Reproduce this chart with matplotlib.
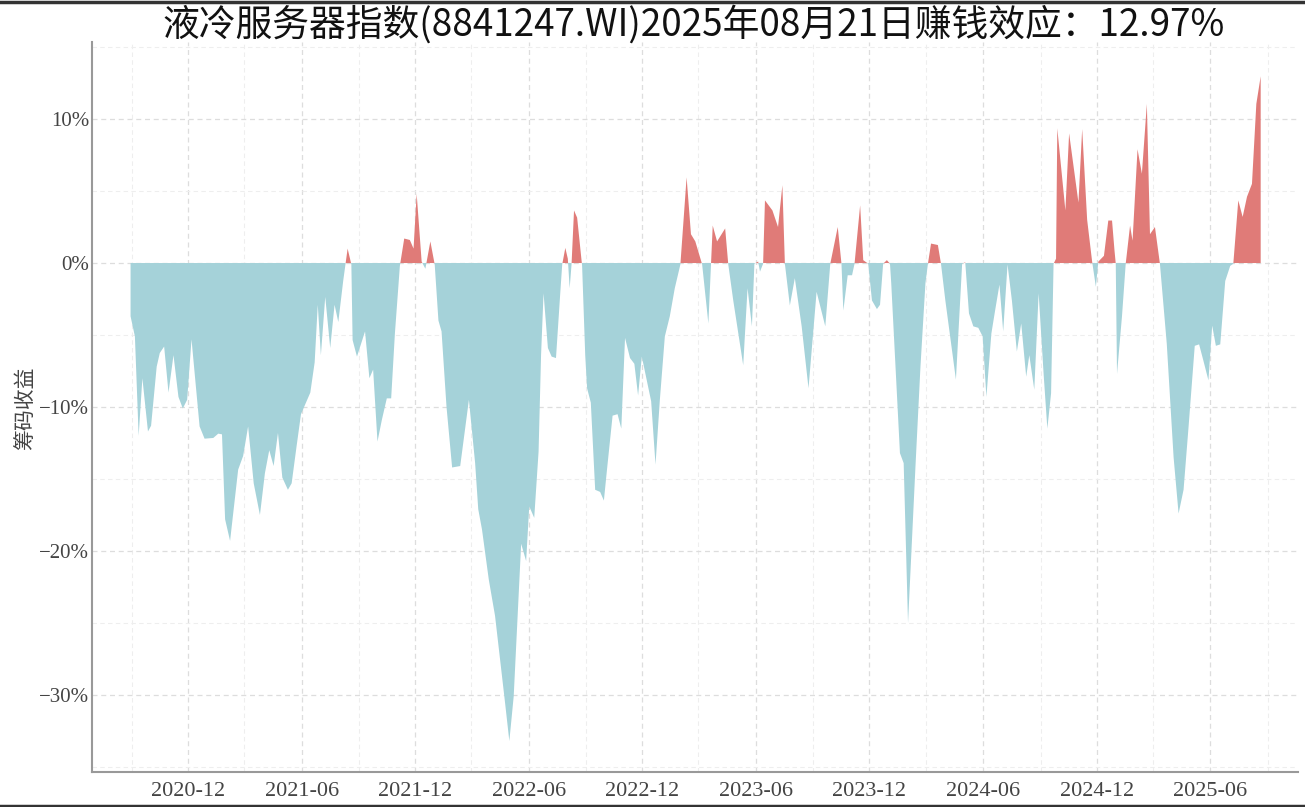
import matplotlib
matplotlib.use("Agg")
import matplotlib.pyplot as plt
import matplotlib.dates as mdates
from matplotlib.ticker import FixedLocator, MultipleLocator
from matplotlib.lines import Line2D
import numpy as np
import pandas as pd

TITLE = "液冷服务器指数(8841247.WI)2025年08月21日赚钱效应：12.97%"
YLABEL = "筹码收益"

dates = [
    "2020-08-30", "2020-09-06", "2020-09-12", "2020-09-18", "2020-09-27", "2020-10-02",
    "2020-10-11", "2020-10-16", "2020-10-23", "2020-10-30", "2020-11-07", "2020-11-15",
    "2020-11-22", "2020-11-29", "2020-12-06", "2020-12-12", "2020-12-19", "2020-12-27",
    "2021-01-10", "2021-01-18", "2021-01-24", "2021-01-29", "2021-02-06", "2021-02-19",
    "2021-02-27", "2021-03-07", "2021-03-16", "2021-03-26", "2021-04-03", "2021-04-10",
    "2021-04-17", "2021-04-24", "2021-05-01", "2021-05-10", "2021-05-16", "2021-05-24",
    "2021-05-31", "2021-06-09", "2021-06-15", "2021-06-22", "2021-06-27", "2021-07-02",
    "2021-07-09", "2021-07-17", "2021-07-24", "2021-07-30", "2021-08-07", "2021-08-14",
    "2021-08-20", "2021-08-22", "2021-08-29", "2021-09-11", "2021-09-18", "2021-09-24",
    "2021-10-01", "2021-10-08", "2021-10-16", "2021-10-23", "2021-10-29", "2021-11-06",
    "2021-11-13", "2021-11-22", "2021-11-28", "2021-12-03", "2021-12-11", "2021-12-17",
    "2021-12-25", "2022-01-01", "2022-01-07", "2022-01-12", "2022-01-20", "2022-01-29",
    "2022-02-11", "2022-02-25", "2022-03-07", "2022-03-12", "2022-03-18", "2022-03-29",
    "2022-04-08", "2022-04-16", "2022-04-24", "2022-05-01", "2022-05-08", "2022-05-20",
    "2022-05-28", "2022-06-02", "2022-06-10", "2022-06-17", "2022-06-21", "2022-06-25",
    "2022-07-02", "2022-07-08", "2022-07-15", "2022-07-22", "2022-07-25", "2022-07-30",
    "2022-08-03", "2022-08-06", "2022-08-09", "2022-08-13", "2022-08-18", "2022-08-26",
    "2022-08-31", "2022-09-03", "2022-09-09", "2022-09-16", "2022-09-24", "2022-09-30",
    "2022-10-05", "2022-10-14", "2022-10-22", "2022-10-28", "2022-11-03", "2022-11-11",
    "2022-11-18", "2022-11-24", "2022-11-30", "2022-12-15", "2022-12-22", "2022-12-29",
    "2023-01-06", "2023-01-14", "2023-01-22", "2023-01-31", "2023-02-10", "2023-02-17",
    "2023-02-24", "2023-03-07", "2023-03-17", "2023-03-24", "2023-03-31", "2023-04-13",
    "2023-04-18", "2023-04-26", "2023-05-12", "2023-05-19", "2023-05-26", "2023-05-30",
    "2023-06-05", "2023-06-08", "2023-06-13", "2023-06-16", "2023-06-28", "2023-07-07",
    "2023-07-14", "2023-07-18", "2023-07-26", "2023-08-03", "2023-08-14", "2023-08-25",
    "2023-09-07", "2023-09-21", "2023-09-29", "2023-10-11", "2023-10-17", "2023-10-20",
    "2023-10-27", "2023-11-03", "2023-11-07", "2023-11-16", "2023-11-21", "2023-11-29",
    "2023-12-05", "2023-12-13", "2023-12-18", "2023-12-23", "2023-12-29", "2024-01-03",
    "2024-01-05", "2024-01-19", "2024-01-25", "2024-02-01", "2024-02-13", "2024-02-21",
    "2024-02-29", "2024-03-04", "2024-03-09", "2024-03-20", "2024-03-25", "2024-04-01",
    "2024-04-18", "2024-04-28", "2024-05-03", "2024-05-09", "2024-05-16", "2024-05-24",
    "2024-05-31", "2024-06-06", "2024-06-14", "2024-06-20", "2024-06-27", "2024-07-03",
    "2024-07-10", "2024-07-17", "2024-07-25", "2024-08-01", "2024-08-09", "2024-08-14",
    "2024-08-22", "2024-08-29", "2024-09-06", "2024-09-12", "2024-09-18", "2024-09-22",
    "2024-09-26", "2024-09-28", "2024-10-11", "2024-10-17", "2024-11-01", "2024-11-07",
    "2024-11-15", "2024-11-23", "2024-11-29", "2024-12-03", "2024-12-12", "2024-12-19",
    "2024-12-25", "2024-12-29", "2024-12-31", "2025-01-02", "2025-01-10", "2025-01-16",
    "2025-01-23", "2025-01-27", "2025-02-04", "2025-02-11", "2025-02-19", "2025-02-24",
    "2025-03-04", "2025-03-12", "2025-03-23", "2025-04-03", "2025-04-11", "2025-04-19",
    "2025-04-27", "2025-05-07", "2025-05-14", "2025-05-21", "2025-05-29", "2025-06-04",
    "2025-06-10", "2025-06-17", "2025-06-25", "2025-07-03", "2025-07-08", "2025-07-16",
    "2025-07-23", "2025-07-30", "2025-08-07", "2025-08-14", "2025-08-21",
]

returns_pct = [
    -3.7, -5.1, -12.0, -8.0, -11.7, -11.3,
    -7.2, -6.25, -5.8, -9.0, -6.4, -9.3,
    -10.1, -9.5, -5.3, -8.1, -11.35, -12.2,
    -12.15, -11.85, -11.9, -17.8, -19.3, -14.35,
    -13.4, -11.35, -15.3, -17.5, -14.6, -13.0,
    -14.1, -11.8, -14.9, -15.75, -15.3, -12.7,
    -10.5, -9.6, -9.0, -6.9, -2.9, -6.4,
    -2.35, -5.9, -2.9, -4.1, -1.2, 1.0,
    -0.1, -5.35, -6.5, -4.75, -8.0, -7.4,
    -12.4, -10.9, -9.4, -9.4, -4.9, -0.2,
    1.7, 1.6, 1.0, 4.8, 0.1, -0.4,
    1.5, -0.1, -4.0, -4.75, -10.0, -14.2,
    -14.1, -9.5, -13.9, -17.1, -18.5, -22.0,
    -24.5, -27.5, -30.5, -33.2, -30.1, -19.5,
    -20.7, -16.9, -17.7, -13.1, -6.4, -2.1,
    -5.9, -6.5, -6.6, -2.0, -0.1, 1.05,
    0.3, -1.75, -0.1, 3.65, 3.15, -0.2,
    -6.4, -8.7, -9.7, -15.75, -15.9, -16.5,
    -14.35, -10.6, -10.5, -11.5, -5.2, -6.6,
    -7.0, -9.2, -6.5, -9.6, -14.0, -9.5,
    -5.1, -3.7, -1.75, -0.1, 5.95, 2.0,
    1.5, -0.1, -4.2, 2.6, 1.5, 2.4,
    -0.1, -2.6, -7.1, -1.75, -4.4, -0.05,
    0.1, -0.6, -0.05, 4.35, 3.65, 2.5,
    5.4, -0.05, -2.95, -1.05, -4.4, -8.7,
    -2.0, -4.4, -0.05, 2.5, -0.05, -3.3,
    -0.85, -0.85, -0.05, 4.0, 0.2, -0.05,
    -2.6, -3.2, -2.9, -0.05, 0.2, -0.05,
    -1.4, -13.2, -13.9, -25.0, -14.1, -7.2,
    -1.4, -0.05, 1.35, 1.25, -0.05, -2.6,
    -8.1, -0.05, 0.05, -3.5, -4.4, -4.5,
    -5.1, -9.3, -4.9, -3.3, -1.5, -4.75,
    -0.1, -2.6, -6.15, -4.2, -7.9, -6.4,
    -8.8, -2.1, -7.7, -11.5, -9.05, -0.05,
    0.3, 9.35, 3.65, 9.0, 4.2, 9.3,
    3.0, 0.1, -1.65, 0.1, 0.5, 2.95,
    2.95, 0.85, -0.05, -7.7, -3.7, -0.05,
    2.6, 1.55, 7.9, 6.2, 11.05, 2.0,
    2.5, -0.05, -5.6, -13.5, -17.4, -15.75,
    -11.4, -5.75, -5.65, -6.8, -8.15, -4.35,
    -5.75, -5.65, -1.25, -0.2, -0.05, 4.35,
    3.2, 4.6, 5.5, 11.05, 12.97,
]

y_ticks = [-30, -20, -10, 0, 10]
y_tick_labels = ["\u221230%", "\u221220%", "\u221210%", "0%", "10%"]

POS_COLOR = "#e07b78"
NEG_COLOR = "#a5d2d9"

x = pd.to_datetime(dates)
y = np.array(returns_pct)

fig = plt.figure(figsize=(13.05, 8.07), dpi=100)
ax = fig.add_axes([92 / 1305, 1 - 772 / 807, (1298 - 92) / 1305, (772 - 42) / 807])

ax.fill_between(x, y, 0, where=y >= 0, interpolate=True, color=POS_COLOR, linewidth=0, zorder=3)
ax.fill_between(x, y, 0, where=y <= 0, interpolate=True, color=NEG_COLOR, linewidth=0, zorder=3)

ax.set_xlim(pd.Timestamp("2020-06-29"), pd.Timestamp("2025-10-20"))
ax.set_ylim(-35.35, 15.35)

ax.xaxis.set_major_locator(mdates.MonthLocator(bymonth=[6, 12]))
ax.xaxis.set_major_formatter(mdates.DateFormatter("%Y-%m"))
ax.xaxis.set_minor_locator(mdates.MonthLocator(bymonth=[3, 9]))
ax.yaxis.set_major_locator(FixedLocator(y_ticks))
ax.set_yticklabels(y_tick_labels)
ax.yaxis.set_minor_locator(MultipleLocator(5))

ax.grid(True, which="major", linestyle=(0, (4, 3)), color="#dddddd", linewidth=0.9, zorder=0)
ax.grid(True, which="minor", linestyle=(0, (4, 3)), color="#eeeeee", linewidth=0.8, zorder=0)
ax.set_axisbelow(True)

ax.tick_params(axis="both", which="both", length=0)
ax.tick_params(axis="x", pad=7)
ax.tick_params(axis="y", pad=2)
for lab in ax.get_xticklabels():
    lab.set_fontfamily("Liberation Serif")
    lab.set_fontsize(16)
    lab.set_color("#444444")
for lab in ax.get_yticklabels():
    lab.set_fontfamily("Liberation Serif")
    lab.set_fontsize(15)
    lab.set_color("#444444")

for s in ["top", "right"]:
    ax.spines[s].set_visible(False)
for s in ["left", "bottom"]:
    ax.spines[s].set_color("#999999")
    ax.spines[s].set_linewidth(1.5)

fig.text(25 / 1305, 1 - 408 / 807, YLABEL, rotation=90, ha="center", va="center",
         fontsize=15, color="#444444", family=["Noto Sans CJK SC", "DejaVu Sans"])

fig.text(694 / 1305, 1 - 25 / 807, TITLE, ha="center", va="center",
         fontsize=26.5, color="#111111", family=["Noto Sans CJK SC", "DejaVu Sans"])

fig.add_artist(Line2D([0, 1], [1 - 1.5 / 807, 1 - 1.5 / 807], transform=fig.transFigure,
                      color="#333333", linewidth=2.5))
fig.add_artist(Line2D([0, 1], [1.5 / 807, 1.5 / 807], transform=fig.transFigure,
                      color="#333333", linewidth=2.5))

fig.savefig("out.png", dpi=100, facecolor="white")
